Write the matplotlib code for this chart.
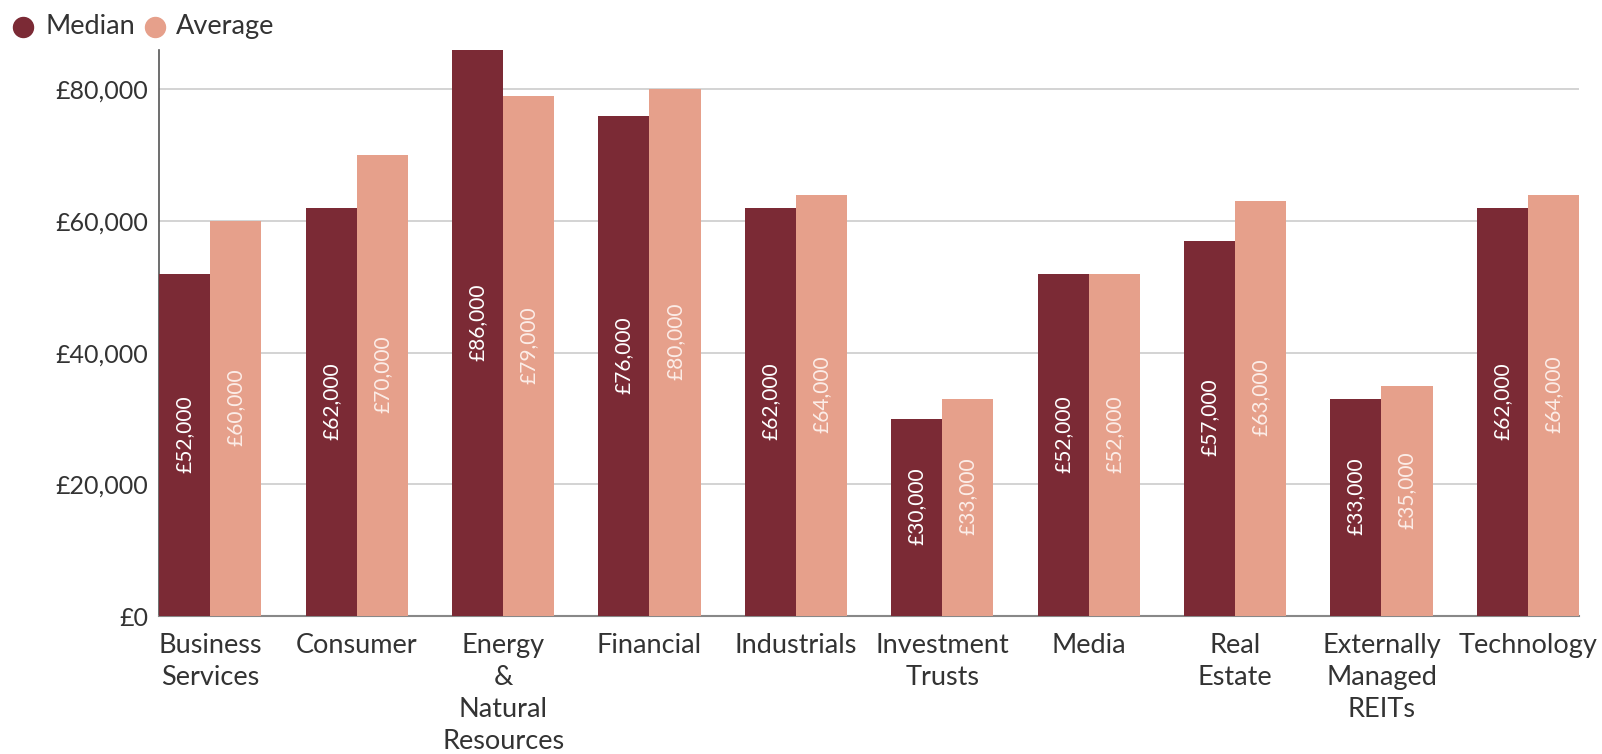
import matplotlib
matplotlib.use("Agg")
import matplotlib.pyplot as plt
import matplotlib.transforms as mtransforms
from matplotlib.lines import Line2D
import numpy as np

plt.rcParams["font.family"] = ["Lato", "DejaVu Sans"]

categories = ["Business\nServices", "Consumer", "Energy\n&\nNatural\nResources", "Financial",
              "Industrials", "Investment\nTrusts", "Media", "Real\nEstate",
              "Externally\nManaged\nREITs", "Technology"]
median = [52000, 62000, 86000, 76000, 62000, 30000, 52000, 57000, 33000, 62000]
average = [60000, 70000, 79000, 80000, 64000, 33000, 52000, 63000, 35000, 64000]
yticks = [0, 20000, 40000, 60000, 80000]

MEDIAN_C = "#7B2A35"
AVERAGE_C = "#E6A08B"
TEXT_C = "#333333"

fig = plt.figure(figsize=(16.02, 7.54), dpi=100)
ax = fig.add_axes([0.0994, 0.183, 0.8862, 0.7507])

x = np.arange(len(categories))
w = 0.349
b1 = ax.bar(x - w / 2, median, w, color=MEDIAN_C, zorder=3)
b2 = ax.bar(x + w / 2, average, w, color=AVERAGE_C, zorder=3)

def gbp(v):
    return f"£{v:,.0f}"

# value labels sit a little above the bar midpoint
lift = mtransforms.offset_copy(ax.transData, fig=fig, x=0, y=8, units="points")
for bars, vals, col in [(b1, median, "white"), (b2, average, "#FCEDE8")]:
    for rect, v in zip(bars, vals):
        ax.text(rect.get_x() + rect.get_width() / 2, v / 2, gbp(v), rotation=90,
                ha="center", va="center", color=col, fontsize=15, zorder=4,
                transform=lift)

ax.set_xlim(-w, len(categories) - 1 + w)
ax.set_ylim(0, 86000)
ax.set_yticks(yticks)
ax.set_yticklabels([gbp(v) for v in yticks])
ax.set_xticks(x)
ax.set_xticklabels(categories, linespacing=1.36, fontsize=19.5)
ax.tick_params(axis="both", length=0, colors=TEXT_C)
ax.tick_params(axis="y", pad=8, labelsize=18)
ax.tick_params(axis="x", pad=12)

ax.grid(axis="y", color="#CCCCCC", linewidth=1.2, zorder=0)
for s in ["top", "right"]:
    ax.spines[s].set_visible(False)
ax.spines["left"].set_color("#555555")
ax.spines["bottom"].set_color("#888888")
ax.spines["left"].set_linewidth(1.2)
ax.spines["bottom"].set_linewidth(1.5)

# legend drawn by hand in figure coordinates
legend_y = 0.9646
for cx, tx, label, col in [(0.01455, 0.0287, "Median", MEDIAN_C),
                           (0.0968, 0.1099, "Average", AVERAGE_C)]:
    fig.add_artist(Line2D([cx], [legend_y], marker="o", markersize=14.4, color=col,
                          linestyle="", transform=fig.transFigure))
    fig.text(tx, legend_y, label, ha="left", va="center", fontsize=19.5, color=TEXT_C)

fig.savefig("out.png", dpi=100, facecolor="white")
